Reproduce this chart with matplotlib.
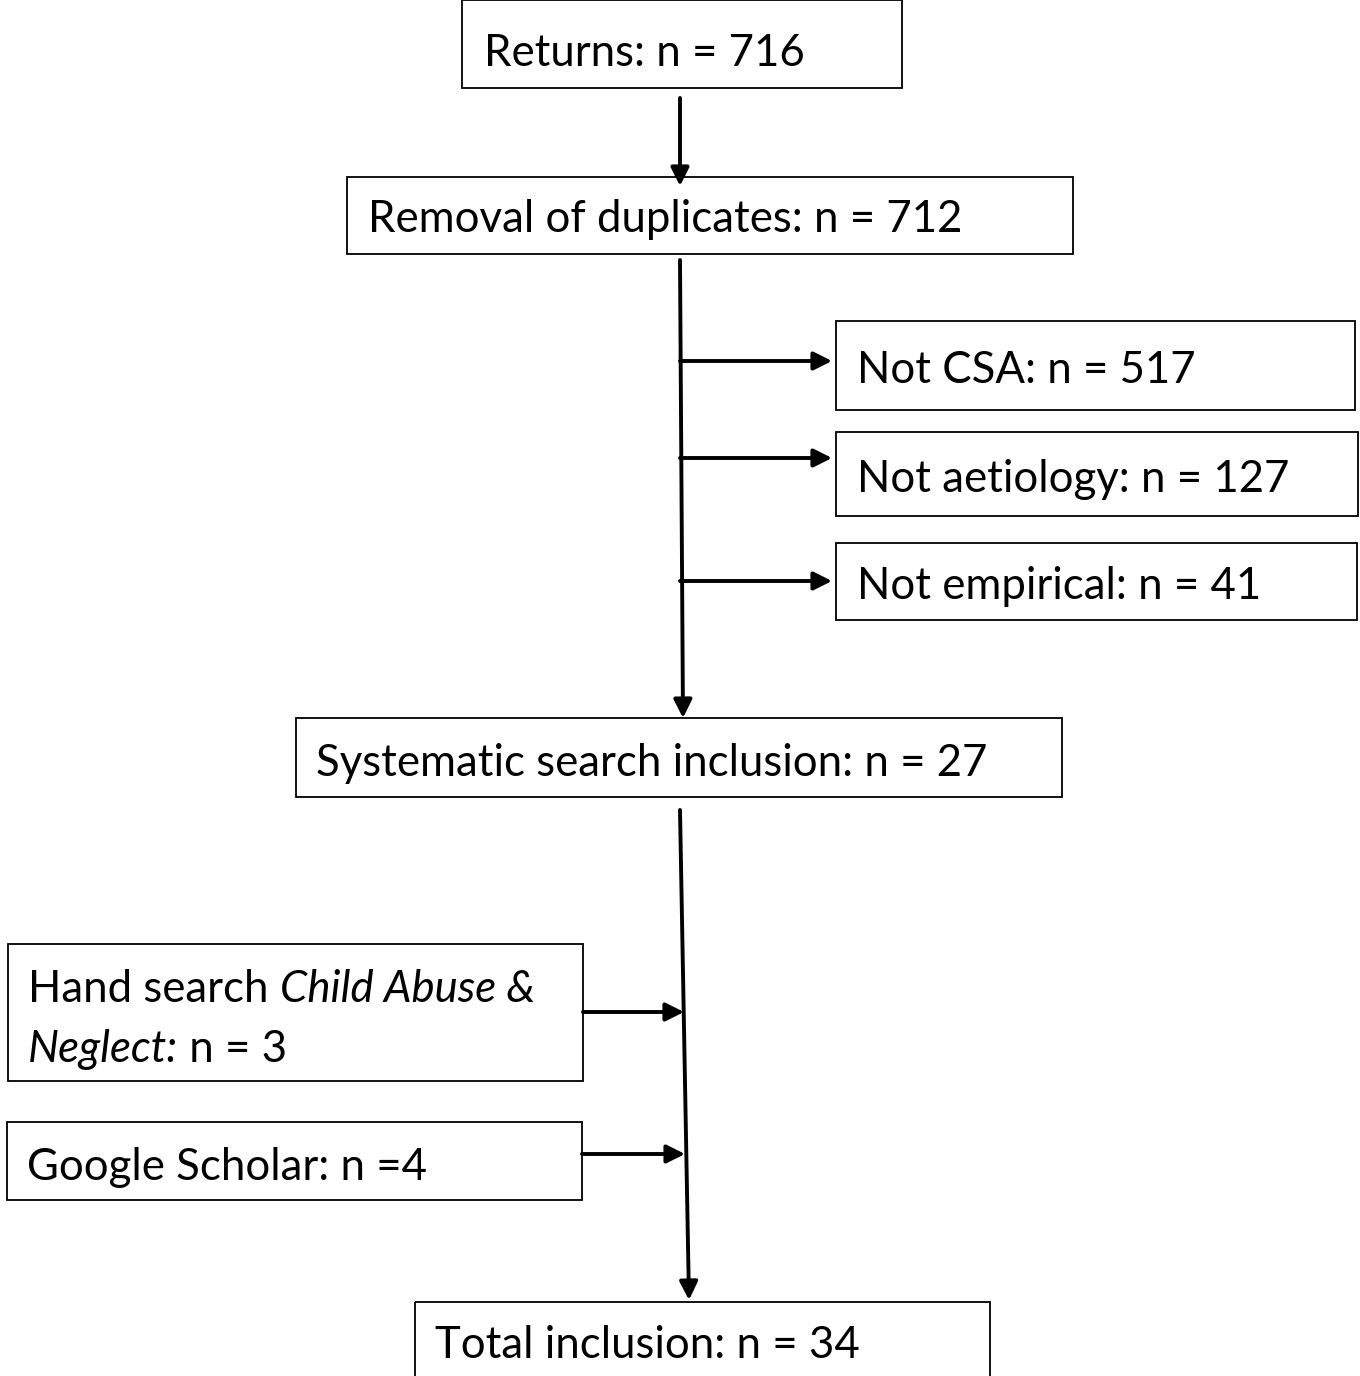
import matplotlib
matplotlib.use("Agg")
import matplotlib.pyplot as plt
from matplotlib.patches import Rectangle

# counts in the flow
returns_n = 716
dedup_n = 712
excluded_labels = ["Not CSA", "Not aetiology", "Not empirical"]
excluded_n = [517, 127, 41]
systematic_n = 27
hand_n = 3
scholar_n = 4
total_n = 34

FONT = "Lato"
FS = 31.5
DY = 3  # nudge text down a bit

fig = plt.figure(figsize=(13.6, 13.76), dpi=100)
ax = fig.add_axes([0, 0, 1, 1])
ax.set_xlim(0, 1360)
ax.set_ylim(1376, 0)
ax.axis("off")


def box(x0, y0, x1, y1):
    ax.add_patch(Rectangle((x0, y0), x1 - x0, y1 - y0, fill=False,
                           edgecolor="black", linewidth=1.3))


def label(x, y, s, style="normal"):
    return ax.text(x, y + DY, s, fontsize=FS, family=FONT, style=style,
                   va="center", ha="left", color="black")


def arrow(x0, y0, x1, y1):
    ax.annotate("", xy=(x1, y1), xytext=(x0, y0),
                arrowprops=dict(arrowstyle="-|>,head_length=1.1,head_width=0.55",
                                color="black", lw=2.8, shrinkA=0, shrinkB=0))


# main column
box(462, 0, 902, 88)
label(484, 50, f"Returns: n = {returns_n}")
arrow(680, 98, 680, 186)

box(347, 177, 1073, 254)
label(368, 217, f"Removal of duplicates: n = {dedup_n}")
arrow(680, 260, 683, 718)

# exclusions
ex_boxes = [(321, 410), (432, 516), (543, 620)]
ex_y = [361, 458, 581]
ex_right = [1355, 1358, 1357]
for (y0, y1), ay, xr, lab, n in zip(ex_boxes, ex_y, ex_right, excluded_labels, excluded_n):
    box(836, y0, xr, y1)
    label(857, (y0 + y1) / 2 + 2, f"{lab}: n = {n}")
    arrow(680, ay, 832, ay)

box(296, 718, 1062, 797)
label(316, 760, f"Systematic search inclusion: n = {systematic_n}")
arrow(680, 810, 689, 1300)

# other sources
box(8, 944, 583, 1081)
fig.canvas.draw()
r = fig.canvas.get_renderer()
t = label(28, 986, "Hand search ")
w = t.get_window_extent(r).width
label(28 + w, 986, "Child Abuse &", style="italic")
t2 = label(28, 1046, "Neglect:", style="italic")
w2 = t2.get_window_extent(r).width
label(28 + w2, 1046, f" n = {hand_n}")
arrow(583, 1012, 684, 1012)

box(7, 1122, 582, 1200)
label(27, 1164, f"Google Scholar: n ={scholar_n}")
arrow(582, 1154, 685, 1154)

box(415, 1302, 990, 1380)
label(435, 1343, f"Total inclusion: n = {total_n}")

fig.savefig("out.png", dpi=100, facecolor="white")
